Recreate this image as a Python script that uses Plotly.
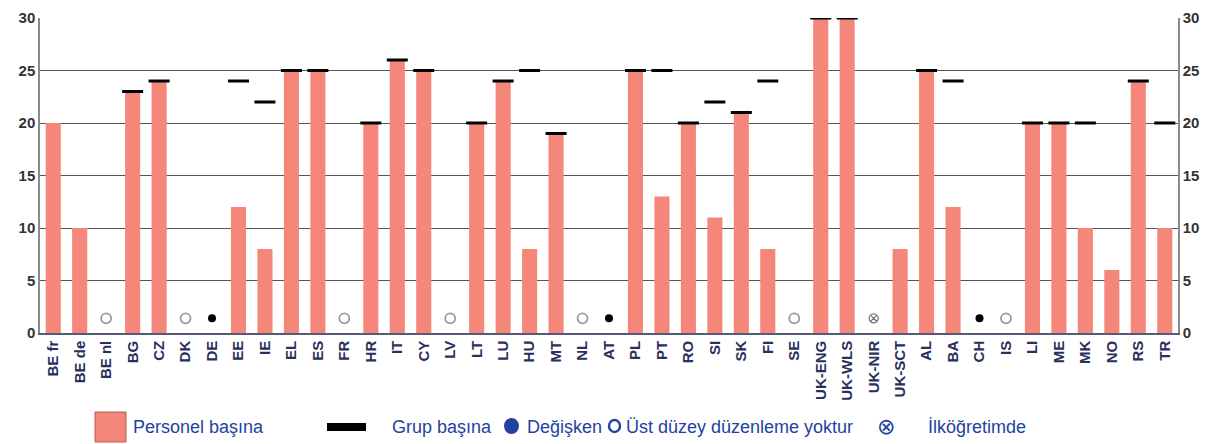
import plotly.graph_objects as go

categories = ["BE fr", "BE de", "BE nl", "BG", "CZ", "DK", "DE", "EE", "IE", "EL", "ES", "FR",
              "HR", "IT", "CY", "LV", "LT", "LU", "HU", "MT", "NL", "AT", "PL", "PT", "RO",
              "SI", "SK", "FI", "SE", "UK-ENG", "UK-WLS", "UK-NIR", "UK-SCT", "AL", "BA",
              "CH", "IS", "LI", "ME", "MK", "NO", "RS", "TR"]

per_staff = [20, 10, None, 23, 24, None, None, 12, 8, 25, 25, None,
             20, 26, 25, None, 20, 24, 8, 19, None, None, 25, 13, 20,
             11, 21, 8, None, 30, 30, None, 8, 25, 12,
             None, None, 20, 20, 10, 6, 24, 10]

per_group = [None, None, None, 23, 24, None, None, 24, 22, 25, 25, None,
             20, 26, 25, None, 20, 24, 25, 19, None, None, 25, 25, 20,
             22, 21, 24, None, 30, 30, None, None, 25, 24,
             None, None, 20, 20, 20, None, 24, 20]

variable_cats = ["DE", "AT", "CH"]
no_regulation_cats = ["BE nl", "DK", "FR", "LV", "NL", "SE", "IS"]
primary_only_cats = ["UK-NIR"]

y_ticks = [0, 5, 10, 15, 20, 25, 30]

BAR_COLOR = "#F4877A"
TEXT_BLUE = "#2242a0"
FONT = "Liberation Sans, Arial, sans-serif"
MARK_Y = 1.4

# the page body has an 8px default margin: the figure is sized so the page matches 1221x444
OFF = 8
FIG_W, FIG_H = 1221 - OFF, 444 - OFF
PL, PR, PT, PB = 40, 1178, 18, 333  # plot area in page pixels

fig = go.Figure()
fig.add_trace(go.Bar(x=categories, y=per_staff, marker=dict(color=BAR_COLOR, line=dict(width=0)),
                     showlegend=False))
fig.add_trace(go.Scatter(x=categories, y=per_group, mode="markers",
                         marker=dict(symbol="line-ew", size=15, line=dict(color="black", width=3)),
                         showlegend=False))
fig.add_trace(go.Scatter(x=no_regulation_cats, y=[MARK_Y] * len(no_regulation_cats), mode="markers",
                         marker=dict(symbol="circle-open", size=10, color="#9a9a9a",
                                     line=dict(color="#9a9a9a", width=1.8)),
                         showlegend=False))
fig.add_trace(go.Scatter(x=variable_cats, y=[MARK_Y] * len(variable_cats), mode="markers",
                         marker=dict(symbol="circle", size=8, color="black"),
                         showlegend=False))
fig.add_trace(go.Scatter(x=primary_only_cats, y=[MARK_Y] * len(primary_only_cats), mode="markers",
                         marker=dict(symbol="circle-x-open", size=9, color="#777",
                                     line=dict(color="#777", width=1.3)),
                         showlegend=False))
# invisible trace to anchor the right axis
fig.add_trace(go.Scatter(x=[categories[0]], y=[0], yaxis="y2", mode="markers",
                         marker=dict(opacity=0), showlegend=False, hoverinfo="skip"))

tick_font = dict(family=FONT, size=15, color="#333333", weight="bold")

fig.update_layout(
    width=FIG_W, height=FIG_H,
    margin=dict(l=PL - OFF, r=FIG_W - (PR - OFF), t=PT - OFF, b=FIG_H - (PB - OFF)),
    paper_bgcolor="white", plot_bgcolor="white",
    bargap=0.43,
    xaxis=dict(type="category", range=[-0.5, len(categories) - 0.5], tickangle=-90,
               tickfont=dict(family=FONT, size=15, color="#2a2f5c", weight="bold"),
               showgrid=False, showline=True, linecolor="#555a78", linewidth=1.5,
               ticks="", ticklen=0, automargin=False),
    yaxis=dict(range=[0, 30], tickvals=y_ticks, showgrid=True, gridcolor="#555555", gridwidth=1.2,
               zeroline=False, showline=True, linecolor="#8a8a8a", linewidth=1.5,
               tickfont=tick_font, ticks="", fixedrange=True, automargin=False,
               ticklabeloverflow="allow"),
    yaxis2=dict(range=[0, 30], tickvals=y_ticks, overlaying="y", side="right", showgrid=False,
                zeroline=False, showline=True, linecolor="#8a8a8a", linewidth=1.5,
                tickfont=tick_font, ticks="", automargin=False, ticklabeloverflow="allow"),
    font=dict(family=FONT),
)

# legend (drawn below the plot), positions given in page pixels
W, H = float(PR - PL), float(PB - PT)
def px(x):
    return (x - PL) / W
def py(y):
    return (PB - y) / H

fig.add_shape(type="rect", xref="paper", yref="paper", x0=px(95), x1=px(126), y0=py(442), y1=py(412),
              fillcolor=BAR_COLOR, line=dict(color="#b85a50", width=1))
fig.add_shape(type="rect", xref="paper", yref="paper", x0=px(327), x1=px(366), y0=py(431), y1=py(423),
              fillcolor="black", line=dict(width=0))
fig.add_shape(type="circle", xref="paper", yref="paper", x0=px(504), x1=px(519), y0=py(434), y1=py(418),
              fillcolor=TEXT_BLUE, line=dict(width=0))
fig.add_shape(type="circle", xref="paper", yref="paper", x0=px(609), x1=px(620), y0=py(432), y1=py(420),
              fillcolor="white", line=dict(color=TEXT_BLUE, width=2.4))
legend_font = dict(family=FONT, size=18, color=TEXT_BLUE)
for x0, txt in [(131, "Personel başına"), (390, "Grup başına"), (525, "Değişken"),
                (624, "Üst düzey düzenleme yoktur"), (926, "İlköğretimde")]:
    fig.add_annotation(xref="paper", yref="paper", x=px(x0), y=py(427), xanchor="left", yanchor="middle",
                       text=txt, showarrow=False, font=legend_font)
fig.add_annotation(xref="paper", yref="paper", x=px(885.5), y=py(426), xanchor="center", yanchor="middle",
                   text="⊗", showarrow=False, font=dict(family="DejaVu Sans", size=22, color=TEXT_BLUE))

fig.write_html("out.html")
